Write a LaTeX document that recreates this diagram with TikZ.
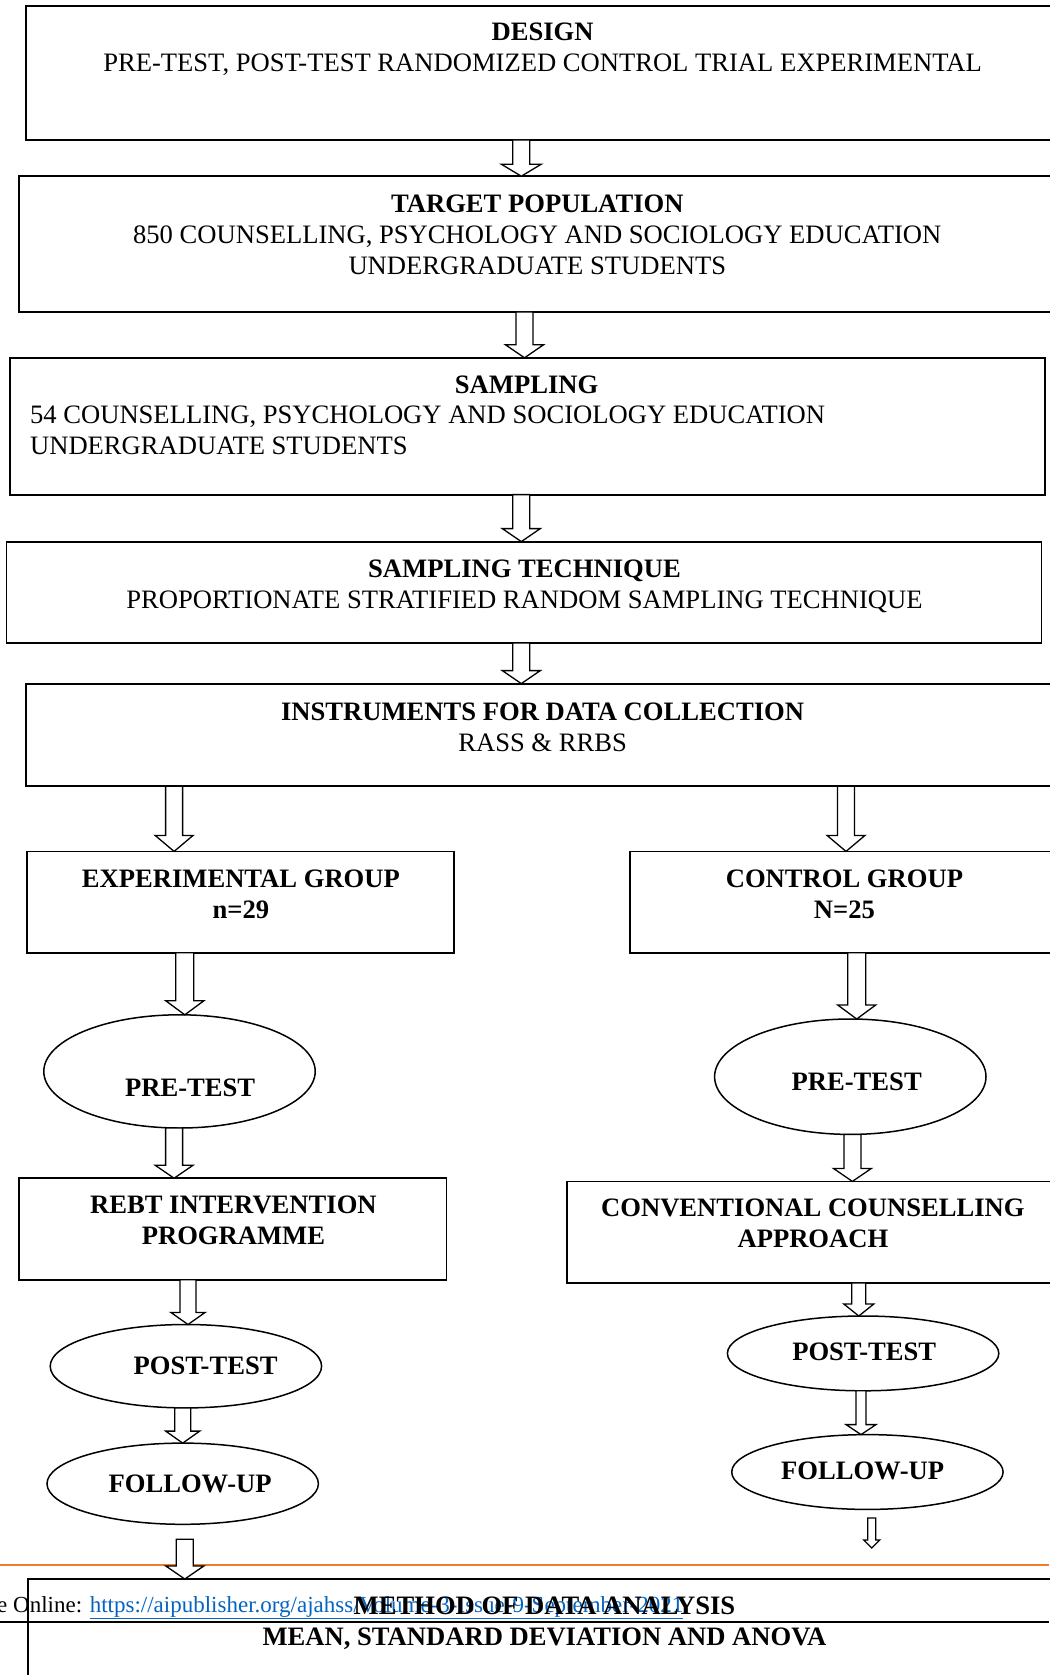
\documentclass[tikz,border=0pt]{standalone}
\usepackage{fontspec}
\setmainfont{Liberation Serif}
\usetikzlibrary{shapes.geometric,calc}
\definecolor{linkblue}{RGB}{5,99,193}
\definecolor{rulorange}{RGB}{237,125,49}
% block arrow: x, from point, to point, half shaft, half head, head length
\newcommand\blockarrow[6]{%
  \draw[blockarr] let \p1=#2, \p2=#3 in
    ({(#1-#4)*1pt},\y1) -- ({(#1-#4)*1pt},{\y2+#6}) -- ({(#1-#5)*1pt},{\y2+#6})
    -- ({#1*1pt},\y2) -- ({(#1+#5)*1pt},{\y2+#6}) -- ({(#1+#4)*1pt},{\y2+#6})
    -- ({(#1+#4)*1pt},\y1) -- cycle;}
\tikzset{
  box/.style={draw, rectangle, line width=1.8pt, anchor=north west, inner sep=0pt, outer sep=0pt},
  oval/.style={draw, ellipse, line width=1.5pt, inner sep=0pt, outer sep=0pt},
  blockarr/.style={draw, fill=white, line width=1.3pt, line join=miter},
  txt/.style={font=\fontsize{26.6}{31}\selectfont, align=center, inner sep=0pt, anchor=north},
  btxt/.style={font=\fontsize{26.6}{31}\selectfont\bfseries, align=center, inner sep=0pt},
}
\begin{document}
\begin{tikzpicture}[x=1pt,y=1pt]
\useasboundingbox (0,0) rectangle (1049,-1675);
\fill[white] (0,0) rectangle (1049,-1675);

% boxes
\node[box, minimum width=1034.4pt, minimum height=133.6pt] (b1) at (25.6,-6.4) {};
\node[box, minimum width=1040.8pt, minimum height=135.7pt] (b2) at (19.2,-176.2) {};
\node[box, minimum width=1035.1pt, minimum height=136.8pt] (b3) at (9.6,-357.8) {};
\node[box, minimum width=1035.1pt, minimum height=101.4pt] (b4) at (6.4,-541.6) {};
\node[box, minimum width=1034.4pt, minimum height=102.6pt] (b5) at (25.6,-683.6) {};
\node[box, minimum width=427.3pt, minimum height=101.4pt] (b6) at (26.7,-851.4) {};
\node[box, minimum width=429.8pt, minimum height=101.4pt] (b7) at (630.2,-851.4) {};
\node[box, minimum width=427.3pt, minimum height=101.5pt] (b8) at (19.2,-1178.2) {};
\node[box, minimum width=492.8pt, minimum height=101.5pt] (b9) at (567.2,-1181.4) {};

% ellipses
\node[oval, minimum width=271.4pt, minimum height=113.2pt] (e1) at (179.5,-1071.4) {};
\node[oval, minimum width=271.4pt, minimum height=115.4pt] (e2) at (850.3,-1076.7) {};
\node[oval, minimum width=271.4pt, minimum height=83.4pt] (e3) at (185.9,-1366.2) {};
\node[oval, minimum width=271.4pt, minimum height=74.8pt] (e4) at (863.1,-1353.4) {};
\node[oval, minimum width=271.4pt, minimum height=81.2pt] (e5) at (182.7,-1483.7) {};
\node[oval, minimum width=271.4pt, minimum height=74.8pt] (e6) at (867.4,-1472) {};

% texts
\node[txt] (t1) at (542.6,-23) {\textbf{DESIGN}\\PRE-TEST, POST-TEST RANDOMIZED CONTROL TRIAL EXPERIMENTAL};
\node[txt] (t2) at (537.3,-195) {\textbf{TARGET POPULATION}\\850 COUNSELLING, PSYCHOLOGY AND SOCIOLOGY EDUCATION\\UNDERGRADUATE STUDENTS};
\node[txt] (t3) at (526.6,-375.6) {\textbf{SAMPLING}};
\node[txt, align=left, anchor=north west] (t3b) at (29.9,-405.5) {54 COUNSELLING, PSYCHOLOGY AND SOCIOLOGY EDUCATION\\UNDERGRADUATE STUDENTS};
\node[txt] (t4) at (524.5,-559.3) {\textbf{SAMPLING TECHNIQUE}\\PROPORTIONATE STRATIFIED RANDOM SAMPLING TECHNIQUE};
\node[txt] (t5) at (542.6,-702.4) {\textbf{INSTRUMENTS FOR DATA COLLECTION}\\RASS \& RRBS};
\node[btxt, anchor=north] (t6) at (240.9,-870) {EXPERIMENTAL GROUP\\n=29};
\node[btxt, anchor=north] (t7) at (844.4,-870) {CONTROL GROUP\\N=25};
\node[btxt] (te1) at (190.1,-1087.4) {PRE-TEST};
\node[btxt] (te2) at (856.7,-1082.1) {PRE-TEST};
\node[btxt, anchor=north] (t8) at (233.4,-1196) {REBT INTERVENTION\\PROGRAMME};
\node[btxt, anchor=north] (t9) at (812.9,-1199) {CONVENTIONAL COUNSELLING\\APPROACH};
\node[btxt] (te3) at (205.6,-1366.2) {POST-TEST};
\node[btxt] (te4) at (864.2,-1352.3) {POST-TEST};
\node[btxt] (te5) at (190.1,-1483.7) {FOLLOW-UP};
\node[btxt] (te6) at (862.6,-1470.9) {FOLLOW-UP};

% free arrow ends
\coordinate (c10a) at (184.8,-1539.3);
\coordinate (c10b) at (871.7,-1518);
\coordinate (c10bend) at (871.7,-1548);

% footer / bottom box
\draw[rulorange, line width=1.3pt] (0,-1565) -- (1049,-1565);
\node[box, minimum width=1032.2pt, minimum height=120pt] (b10) at (27.8,-1579) {};
\draw[line width=2pt] (0,-1622) -- (1049,-1622);
\node[font=\fontsize{23}{27}\selectfont, inner sep=0pt, anchor=base west] (foot) at (-3,-1612)
  {e Online: \textcolor{linkblue}{\underline{https://aipublisher.org/ajahss/Volume-3-Issue-9-September-2021}}};
\node[btxt, anchor=north] (t10) at (544.5,-1597) {METHOD OF DATA ANALYSIS\\MEAN, STANDARD DEVIATION AND ANOVA};

% arrows
\blockarrow{521.3}{(b1.south)}{(b2.north)}{8.5}{20}{12}
\blockarrow{524.5}{(b2.south)}{(b3.north)}{8.5}{19}{13}
\blockarrow{521.3}{(b3.south)}{(b4.north)}{8.5}{19}{13}
\blockarrow{521.3}{(b4.south)}{(b5.north)}{8.5}{19}{13}
\blockarrow{174.1}{(b5.south)}{(b6.north)}{8.5}{19}{16}
\blockarrow{846}{(b5.south)}{(b7.north)}{8.5}{19}{16}
\blockarrow{184.8}{(b6.south)}{(e1.north)}{9}{19}{14}
\blockarrow{856.7}{(b7.south)}{(e2.north)}{9}{19}{14}
\blockarrow{174.1}{(e1.south)}{(b8.north)}{8.5}{19}{13}
\blockarrow{852.4}{(e2.south)}{(b9.north)}{8.5}{19}{13}
\blockarrow{188}{(b8.south)}{(e3.north)}{8}{17}{12}
\blockarrow{858.8}{(b9.south)}{(e4.north)}{7}{15}{12}
\blockarrow{182.7}{(e3.south)}{(e5.north)}{8}{17}{12}
\blockarrow{861}{(e4.south)}{(e6.north)}{5}{15}{10}
\blockarrow{184.8}{(c10a)}{(b10.north)}{8.5}{19}{13}
\blockarrow{871.7}{(c10b)}{(c10bend)}{4}{8}{8}
\end{tikzpicture}
\end{document}
